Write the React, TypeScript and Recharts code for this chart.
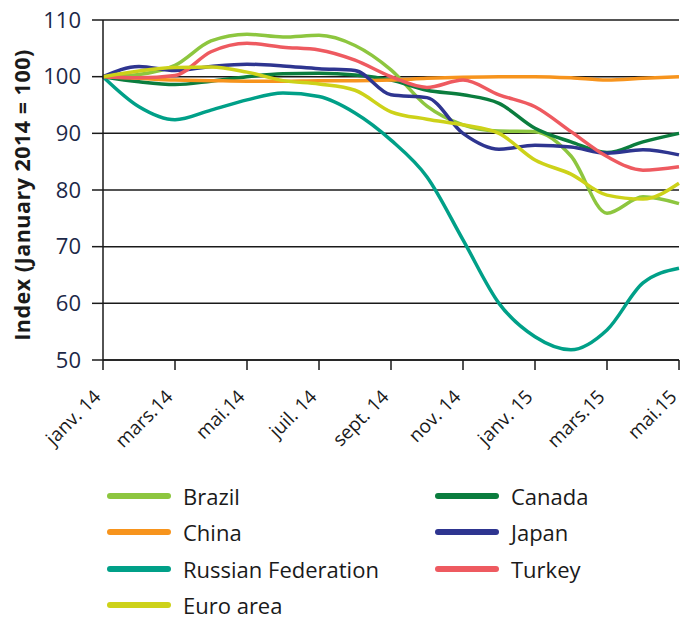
import { CartesianGrid, Line, LineChart, XAxis, YAxis } from "recharts";

const months = [
  "janv. 14", "févr. 14", "mars.14", "avr. 14", "mai.14", "juin 14",
  "juil. 14", "août 14", "sept. 14", "oct. 14", "nov. 14", "déc. 14",
  "janv. 15", "févr. 15", "mars.15", "avr. 15", "mai.15",
];

const brazil = [100, 100.4, 102, 106.3, 107.5, 107, 107.3, 105.5, 101.2, 94.8, 91.5, 90.4, 90.3, 86, 75.9, 78.8, 77.6];
const canada = [100, 99.1, 98.6, 99.2, 100, 100.5, 100.6, 100.3, 99.4, 97.6, 96.8, 95.3, 90.9, 88.5, 86.6, 88.5, 90];
const china = [100, 99.7, 99.4, 99.3, 99.2, 99.2, 99.3, 99.3, 99.4, 99.7, 99.9, 100, 100, 99.8, 99.4, 99.7, 100];
const japan = [100, 101.8, 101.1, 101.8, 102.2, 101.9, 101.4, 101.1, 96.8, 96.3, 90, 87.2, 87.9, 87.6, 86.5, 87.1, 86.2];
const russia = [100, 94.7, 92.4, 94.1, 95.9, 97.1, 96.5, 93.6, 88.8, 82.3, 71.2, 60, 54.1, 51.8, 55.3, 63.6, 66.2];
const turkey = [100, 99.8, 100.2, 104.4, 105.9, 105.2, 104.7, 102.9, 100, 98.1, 99.4, 96.8, 94.7, 90.3, 85.9, 83.5, 84.1];
const euroArea = [100, 101, 101.6, 101.7, 100.8, 99.3, 98.7, 97.6, 93.8, 92.5, 91.5, 90, 85.3, 82.8, 79.1, 78.4, 81.2];

const yTicks = [50, 60, 70, 80, 90, 100, 110];

const series = [
  { key: "brazil", name: "Brazil", color: "#8dc63f", values: brazil },
  { key: "canada", name: "Canada", color: "#0b7d3e", values: canada },
  { key: "china", name: "China", color: "#f7941d", values: china },
  { key: "japan", name: "Japan", color: "#2e3590", values: japan },
  { key: "russia", name: "Russian Federation", color: "#00a088", values: russia },
  { key: "turkey", name: "Turkey", color: "#ee5a60", values: turkey },
  { key: "euro", name: "Euro area", color: "#cdd219", values: euroArea },
];

// legend is laid out in two columns like the original figure
const legendLeft = ["brazil", "china", "russia", "euro"];
const legendRight = ["canada", "japan", "turkey"];

const data = months.map((m, i) => {
  const row: Record<string, string | number> = { month: m };
  series.forEach((s) => {
    row[s.key] = s.values[i];
  });
  return row;
});

const font = "'Open Sans', sans-serif";

function MonthTick(props: any) {
  const { x, y, payload } = props;
  const px = x - 1;
  const py = y + 26;
  return (
    <text
      x={px}
      y={py}
      transform={`rotate(-45 ${px} ${py})`}
      textAnchor="end"
      fontSize={19}
      fontFamily={font}
      fill="#1a1a1a"
    >
      {payload.value}
    </text>
  );
}

function LegendItem({ k, left, row }: { k: string; left: number; row: number }) {
  const s = series.find((d) => d.key === k)!;
  return (
    <div
      style={{
        position: "absolute",
        left,
        top: 484 + row * 36.3,
        height: 24,
        display: "flex",
        alignItems: "center",
        whiteSpace: "nowrap",
      }}
    >
      <div
        style={{
          width: 64,
          height: 6,
          borderRadius: 3,
          background: s.color,
          marginRight: 12,
        }}
      />
      <span style={{ display: "block", fontSize: 22, lineHeight: "24px", color: "#1a1a1a" }}>
        {s.name}
      </span>
    </div>
  );
}

export default function App() {
  return (
    <div style={{ position: "relative", width: 682, height: 621, fontFamily: font }}>
      <style>{"body{margin:0;background:#fff}"}</style>
      <LineChart
        width={682}
        height={621}
        data={data}
        margin={{ top: 20, right: 3, left: 0, bottom: 161 }}
      >
        <CartesianGrid vertical={false} stroke="#1a1a1a" strokeWidth={1.5} />
        <XAxis
          dataKey="month"
          interval={1}
          height={100}
          tick={<MonthTick />}
          tickSize={10}
          axisLine={{ stroke: "#1a1a1a", strokeWidth: 1.5 }}
          tickLine={{ stroke: "#1a1a1a", strokeWidth: 1.5 }}
        />
        <YAxis
          width={103}
          domain={[50, 110]}
          ticks={yTicks}
          interval={0}
          tickSize={11}
          tickMargin={11}
          axisLine={{ stroke: "#1a1a1a", strokeWidth: 1.5 }}
          tickLine={{ stroke: "#1a1a1a", strokeWidth: 1.5 }}
          tick={{ fontSize: 22, fontFamily: font, fill: "#1c2847" }}
          label={{
            content: () => (
              <text
                x={21}
                y={195}
                transform="rotate(-90 21 195)"
                textAnchor="middle"
                dominantBaseline="central"
                fontSize={21.5}
                fontWeight={700}
                letterSpacing={0.5}
                fontFamily={font}
                fill="#1a1a1a"
              >
                Index (January 2014 = 100)
              </text>
            ),
          }}
        />
        {series.map((s) => (
          <Line
            key={s.key}
            type="monotone"
            dataKey={s.key}
            name={s.name}
            stroke={s.color}
            strokeWidth={3.5}
            dot={false}
            activeDot={false}
            isAnimationActive={false}
          />
        ))}
      </LineChart>
      {legendLeft.map((k, i) => (
        <LegendItem key={k} k={k} left={107} row={i} />
      ))}
      {legendRight.map((k, i) => (
        <LegendItem key={k} k={k} left={435} row={i} />
      ))}
    </div>
  );
}
